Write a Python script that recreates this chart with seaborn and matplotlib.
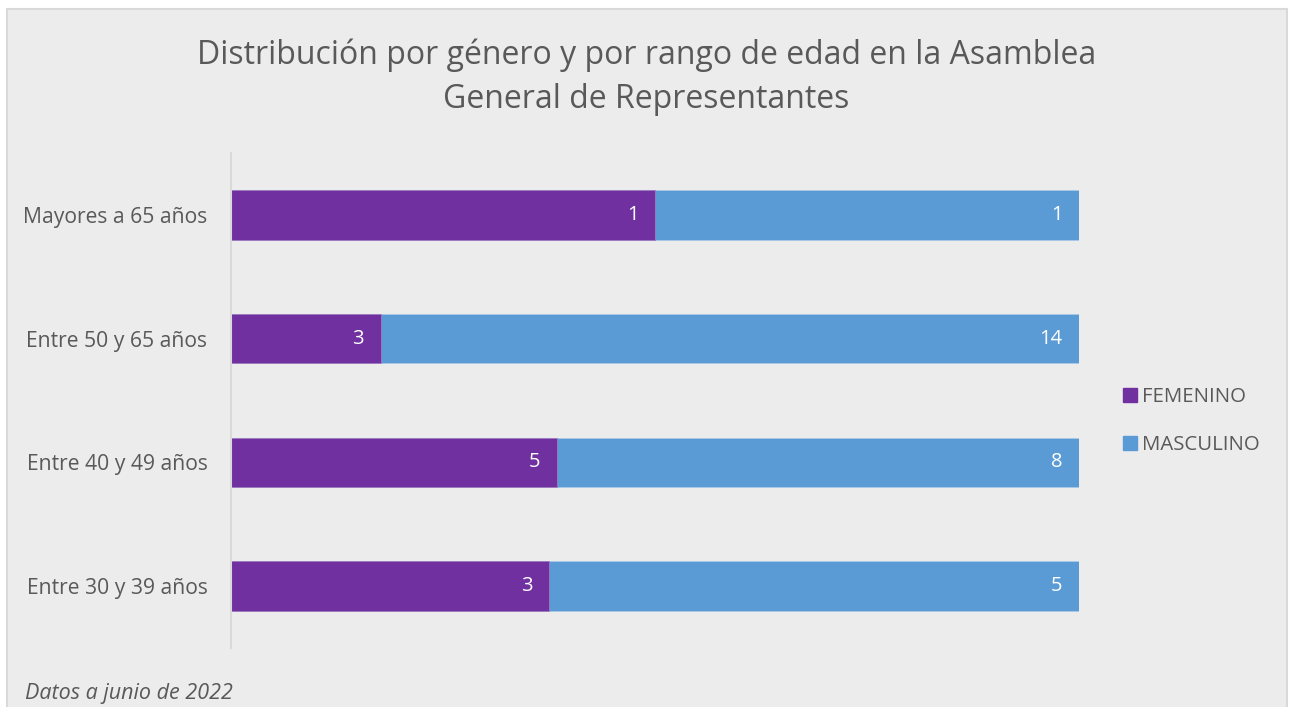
import numpy as np
import pandas as pd
import matplotlib.pyplot as plt
import seaborn as sns
from matplotlib.patches import Rectangle
from matplotlib.lines import Line2D

# datos
categorias = ['Mayores a 65 años', 'Entre 50 y 65 años', 'Entre 40 y 49 años', 'Entre 30 y 39 años']
femenino = [1, 3, 5, 3]
masculino = [1, 14, 8, 5]
series = ['FEMENINO', 'MASCULINO']
colores = ['#7030A0', '#5B9BD5']

sns.set_style('white')
plt.rcParams['font.family'] = ['Open Sans', 'DejaVu Sans']
gris = '#595959'

df = pd.DataFrame({'rango': categorias, 'fem': femenino, 'masc': masculino})
df['total'] = df['fem'] + df['masc']
df['p_fem'] = df['fem'] / df['total']
df['p_tot'] = 1.0

fig = plt.figure(figsize=(12.93, 7.07), dpi=100)
fig.patch.set_facecolor('white')
fondo = Rectangle((7 / 1293, -0.05), 1280 / 1293, 1 - 9 / 707 + 0.05,
                  transform=fig.transFigure, facecolor='#ECECEC',
                  edgecolor='#D9D9D9', linewidth=1.5, zorder=-1)
fig.add_artist(fondo)

ax = fig.add_axes([231 / 1293, 1 - 648 / 707, 848 / 1293, 495 / 707])
ax.set_facecolor('none')
ax.set_zorder(2)

sns.barplot(data=df, x='p_tot', y='rango', color=colores[1], orient='h', saturation=1,
            width=0.4, ax=ax, edgecolor='#A9C8E8', linewidth=0.6)
sns.barplot(data=df, x='p_fem', y='rango', color=colores[0], orient='h', saturation=1,
            width=0.4, ax=ax, edgecolor='#A07CC0', linewidth=0.6)

ax.set_xlim(0, 1)
ax.set_ylim(3.5, -0.5)
ax.set_xlabel('')
ax.set_ylabel('')
ax.set_xticks([])
for s in ['top', 'right', 'bottom']:
    ax.spines[s].set_visible(False)
ax.spines['left'].set_color('#D9D9D9')
ax.spines['left'].set_linewidth(1.5)
ax.tick_params(axis='y', length=0, pad=17, labelsize=15.2, labelcolor=gris)

# etiquetas de datos
for i, r in df.iterrows():
    ax.annotate(str(r['fem']), (r['p_fem'], i), xytext=(-12, 0), textcoords='offset points',
                ha='right', va='center', color='white', fontsize=14.5)
    ax.annotate(str(r['masc']), (1.0, i), xytext=(-12, 0), textcoords='offset points',
                ha='right', va='center', color='white', fontsize=14.5)

handles = [Line2D([0], [0], marker='s', linestyle='', markersize=10,
                  markerfacecolor=c, markeredgecolor=c) for c in colores]
fig.legend(handles, series, loc='center left', bbox_to_anchor=(1101 / 1293, 1 - 421 / 707),
           frameon=False, fontsize=14.7, labelcolor=gris, handletextpad=0.1,
           labelspacing=1.35, handlelength=1.0)

fig.text(0.5, 1 - 55 / 707, 'Distribución por género y por rango de edad en la Asamblea',
         ha='center', va='center', fontsize=23, color=gris)
fig.text(0.5, 1 - 100 / 707, 'General de Representantes',
         ha='center', va='center', fontsize=23, color=gris)
fig.text(25 / 1293, 1 - 694 / 707, 'Datos a junio de 2022', ha='left', va='center',
         fontsize=15.5, style='italic', color=gris)

fig.savefig('out.png', dpi=100)
